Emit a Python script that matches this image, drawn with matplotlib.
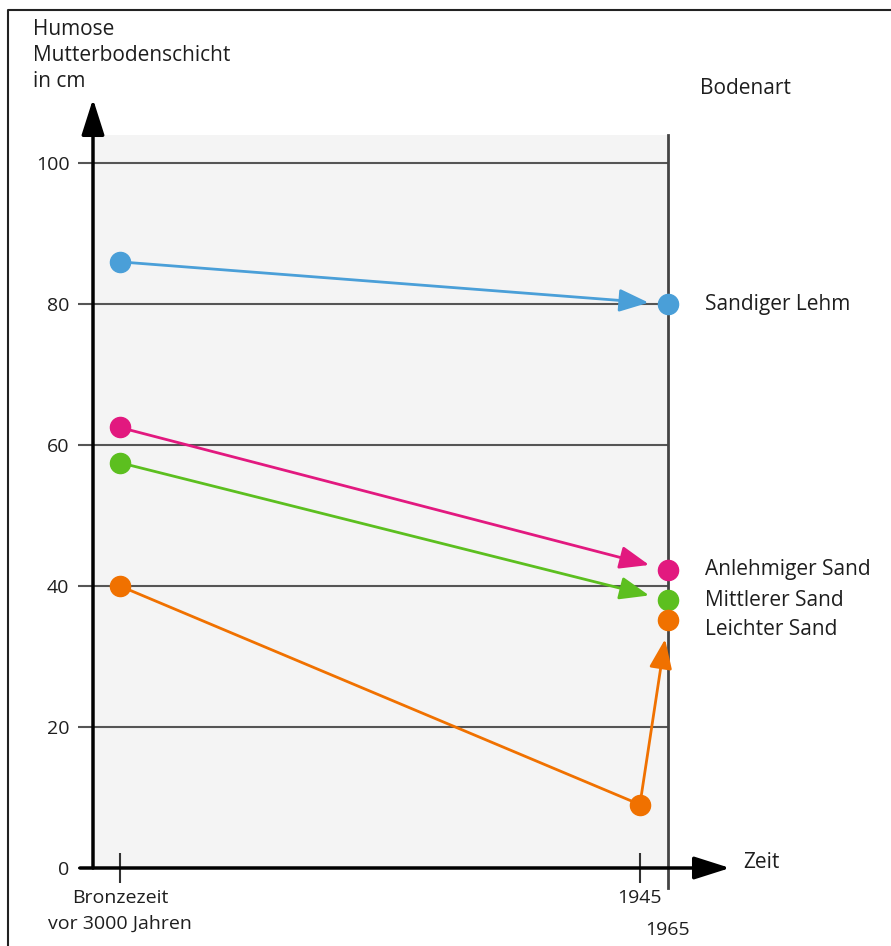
import matplotlib.pyplot as plt
from matplotlib.lines import Line2D

plt.rcParams["font.family"] = ["Open Sans", "DejaVu Sans"]

# Zeitachse (schematisch): Bronzezeit, 1945, 1965
zeitpunkte = ["Bronzezeit\nvor 3000 Jahren", "1945"]
zeit_pos = [0.0, 1.0, 1.054]
label_1965 = "1965"

bodenarten = ["Sandiger Lehm", "Anlehmiger Sand", "Mittlerer Sand", "Leichter Sand"]
farben = ["#4a9fd8", "#e2197f", "#5cbf1f", "#f07100"]
werte_bronzezeit = [86, 62.5, 57.5, 40]
werte_1965 = [80, 42.3, 38, 35.2]
leichter_sand_1945 = 9
label_versatz = [0, 0, 0, -1.3]

y_ticks = [0, 20, 40, 60, 80, 100]

textfarbe = "#1e1e1e"
W, H = 891, 946
fig = plt.figure(figsize=(W / 100, H / 100), dpi=100)
ax = fig.add_axes([93 / W, 78 / H, 575 / W, 733 / H])
ax.set_facecolor("#f4f4f4")
ax.set_xlim(-0.052, 1.054)
ax.set_ylim(0, 104)
for s in ax.spines.values():
    s.set_visible(False)

ax.set_yticks(y_ticks)
ax.yaxis.grid(True, color="#555555", lw=1.5)
ax.set_axisbelow(True)
ax.tick_params(axis="y", length=11, width=1.5, color="#555555", pad=6,
               labelsize=14, labelcolor=textfarbe)
ax.set_xticks(zeit_pos[:2])
ax.set_xticklabels(zeitpunkte)
ax.get_xticklabels()[0].set_linespacing(1.6)
ax.set_xticks([zeit_pos[2]], minor=True)
ax.set_xticklabels([label_1965], minor=True)
ax.tick_params(axis="x", which="major", direction="inout", length=22, width=1.5,
               color="#333333", pad=4, labelsize=14, labelcolor=textfarbe)
ax.tick_params(axis="x", which="minor", length=0, pad=38, labelsize=14,
               labelcolor=textfarbe)

# senkrechte Linie bei 1965
ax.plot([zeit_pos[2], zeit_pos[2]], [-2.8, 104], color="#444444", lw=2,
        clip_on=False, zorder=2)

# Achsenpfeile
pfeil = dict(arrowstyle="-|>,head_length=1.1,head_width=0.35", mutation_scale=20,
             lw=2.5, color="black", shrinkA=0, shrinkB=0)
ax.annotate("", xy=(1 + 62 / 575, 0), xytext=(-13 / 575, 0),
            xycoords="axes fraction", arrowprops=pfeil, annotation_clip=False)
ax.annotate("", xy=(0, 1 + 36 / 733), xytext=(0, 0),
            xycoords="axes fraction", arrowprops=pfeil, annotation_clip=False)

datenpfeil = "-|>,head_length=0.9,head_width=0.35"
for i, name in enumerate(bodenarten):
    c = farben[i]
    if name == "Leichter Sand":
        ax.plot([zeit_pos[0], zeit_pos[1]], [werte_bronzezeit[i], leichter_sand_1945],
                color=c, lw=2, zorder=3)
        ax.plot(zeit_pos[1], leichter_sand_1945, "o", color=c, ms=14.5, zorder=5)
        start = (zeit_pos[1], leichter_sand_1945)
    else:
        start = (zeit_pos[0], werte_bronzezeit[i])
    ax.annotate("", xy=(zeit_pos[2], werte_1965[i]), xytext=start,
                arrowprops=dict(arrowstyle=datenpfeil, mutation_scale=20, lw=2,
                                color=c, shrinkA=0, shrinkB=14),
                zorder=3)
    ax.plot(zeit_pos[0], werte_bronzezeit[i], "o", color=c, ms=14.5, zorder=5,
            clip_on=False)
    ax.plot(zeit_pos[2], werte_1965[i], "o", color=c, ms=14.5, zorder=5,
            clip_on=False)
    ax.annotate(name, xy=(zeit_pos[2], werte_1965[i] + label_versatz[i]),
                xytext=(27, 0), textcoords="offset points", va="center",
                fontsize=15, color=textfarbe, annotation_clip=False)

fig.text(33 / W, 1 - 19 / H, "Humose\nMutterbodenschicht\nin cm", va="top",
         ha="left", fontsize=15, color=textfarbe, linespacing=1.3)
fig.text(700 / W, 1 - 94 / H, "Bodenart", va="baseline", ha="left",
         fontsize=15, color=textfarbe)
fig.text(743 / W, 1 - 862 / H, "Zeit", va="center", ha="left",
         fontsize=15, color=textfarbe)

fig.add_artist(Line2D([8 / W, 8 / W, 1], [0, 1 - 10 / H, 1 - 10 / H],
                      transform=fig.transFigure, color="#222222", lw=1.5))

fig.savefig("out.png", dpi=100)
